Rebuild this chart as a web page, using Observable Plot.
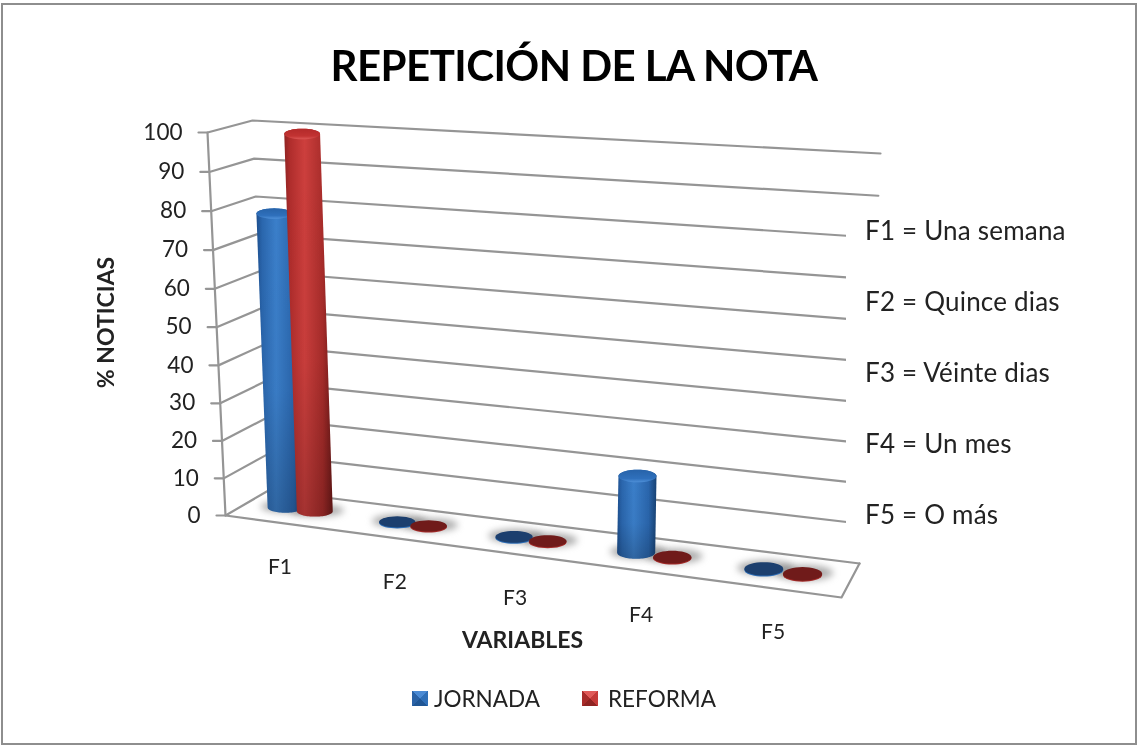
<!DOCTYPE html>
<html lang="es">
<head>
<meta charset="utf-8">
<script src="https://cdn.jsdelivr.net/npm/d3@7"></script>
<script src="https://cdn.jsdelivr.net/npm/@observablehq/plot@0.6"></script>
<style>
  html, body { margin: 0; padding: 0; background: #fff; }
  #wrap { position: relative; width: 1137px; height: 745px; overflow: hidden; font-family: Lato, "Open Sans", sans-serif; color: #1a1a1a; filter: blur(0.45px); }
  #frame { position: absolute; left: 1px; top: 3px; width: 1132px; height: 738px; border: 2.5px solid #8e8e8e; pointer-events: none; }
  #title { position: absolute; left: 274px; top: 35px; width: 600px; text-align: center; font-size: 42px; letter-spacing: -0.55px; font-weight: 700; color: #000; white-space: nowrap; line-height: 60px; }
  #notes { position: absolute; left: 846px; top: 206px; width: 270px; height: 328px; background: #fff; }
  #notes div { position: absolute; left: 19px; font-size: 26px; letter-spacing: 0.2px; line-height: 30px; white-space: nowrap; color: #222; }
  #legend div.t { position: absolute; top: 684px; font-size: 22.5px; line-height: 30px; color: #222; }
  #legend div.s { position: absolute; top: 691px; width: 16px; height: 15px; }
</style>
</head>
<body>
<div id="wrap"></div>
<script>
// ---- data ----
const categories = ["F1", "F2", "F3", "F4", "F5"];
const jornada = [78, 0, 0, 20, 0];
const reforma = [100, 0, 0, 0, 0];
const yTicks = [0, 10, 20, 30, 40, 50, 60, 70, 80, 90, 100];
const notes = ["F1 = Una semana", "F2 = Quince dias", "F3 = Véinte dias", "F4 = Un mes", "F5 = O más"];
const seriesNames = ["JORNADA", "REFORMA"];

// ---- 3D box geometry: floor quad and wall tops ----
const floorFL = [225, 515], floorFR = [841, 597], floorBR = [859, 563], floorBL = [268, 490];
const topFL = [207, 132], topBL = [252, 120], topBR = [880, 153];

function homography([x0, y0], [x1, y1], [x2, y2], [x3, y3]) {
  const dx1 = x1 - x2, dy1 = y1 - y2, dx2 = x3 - x2, dy2 = y3 - y2;
  const sx = x0 - x1 + x2 - x3, sy = y0 - y1 + y2 - y3;
  const den = dx1 * dy2 - dx2 * dy1;
  const g = (sx * dy2 - dx2 * sy) / den, h = (dx1 * sy - sx * dy1) / den;
  const a = x1 - x0 + g * x1, b = x3 - x0 + h * x3, d = y1 - y0 + g * y1, e = y3 - y0 + h * y3;
  return (u, w) => {
    const q = g * u + h * w + 1;
    return [(a * u + b * w + x0) / q, (d * u + e * w + y0) / q];
  };
}
const floor = homography(floorFL, floorFR, floorBR, floorBL);
const persp = 0.033;
const level = v => { const t = v / 100; return t * (1 - persp) / (1 - persp * t); };
const onEdge = (b, t, v) => { const f = level(v); return [b[0] + (t[0] - b[0]) * f, b[1] + (t[1] - b[1]) * f]; };

const depth = 0.5, seriesOffset = 0.028;
const catU = i => 0.102 + 0.2105 * i - 0.0025 * i * i;
function barBase(i, s) { return floor(catU(i) + (s === 0 ? -1 : 1) * seriesOffset, depth); }
function barTop([x, y], v) {
  const t = (x - floorFL[0]) / (floorBR[0] - floorFL[0]);
  return [x + (-18 + 38 * t) * v / 100, y - (376 + 10 * t) * v / 100];
}
const radii = x => {
  const t = (x - floorFL[0]) / (floorBR[0] - floorFL[0]);
  return [17.6 + 2.2 * t, 5 + 2 * t];
};
const arc = ([cx, cy], [rx, ry], a0, a1) =>
  d3.range(0, 37).map(k => {
    const a = a0 + (a1 - a0) * k / 36;
    return {x: cx + rx * Math.cos(a), y: cy + ry * Math.sin(a)};
  });
const ring = (c, r) => arc(c, r, 0, 2 * Math.PI);
const poly = (pts, opts) => Plot.line(pts, {x: "x", y: "y", stroke: "none", ...opts});
const seg = (...pts) => pts.map(([x, y]) => ({x, y}));

// ---- wall & floor lines ----
const gridColor = "#959595";
const lineOpts = {x: "x", y: "y", stroke: gridColor, strokeWidth: 2.2};
const marks = [];
for (const v of yTicks) {
  const a = onEdge(floorFL, topFL, v), b = onEdge(floorBL, topBL, v), c = onEdge(floorBR, topBR, v);
  marks.push(Plot.line(seg([a[0] - 9, a[1]], a, b, c), lineOpts));
}
marks.push(Plot.line(seg(floorFL, topFL), lineOpts));
marks.push(Plot.line(seg(floorFL, floorFR, floorBR), lineOpts));

// ---- cylinders ----
const fills = [
  {body: "url(#bodyB)", cap: "url(#capB)", flat: "#1c3f6e", rim: "#2f6fb8"},
  {body: "url(#bodyR)", cap: "url(#capR)", flat: "#701b1a", rim: "#a52b29"}
];
const valuesBySeries = [jornada, reforma];
categories.forEach((_, i) => {
  [0, 1].forEach(s => {
    const b = barBase(i, s);
    marks.push(poly(ring([b[0] + 2, b[1] - 1], (([rx, ry]) => [rx + 9, ry + 1])(radii(b[0]))),
      {fill: "#777", fillOpacity: 0.6, imageFilter: "blur(3.5px)"}));
  });
});
categories.forEach((_, i) => {
  [0, 1].forEach(s => {
    const v = valuesBySeries[s][i], b = barBase(i, s), r = radii(b[0]), f = fills[s];
    if (v === 0) {
      marks.push(poly(ring([b[0], b[1] + 1], r), {fill: f.rim}));
      marks.push(poly(ring(b, r), {fill: f.flat}));
      return;
    }
    const t = barTop(b, v);
    const outline = [...arc(b, r, 0, Math.PI), ...arc(t, r, Math.PI, 2 * Math.PI)];
    marks.push(poly(outline, {fill: f.body}));
    marks.push(poly(outline, {fill: "url(#shade)"}));
    marks.push(poly(ring(t, r), {fill: f.cap}));
  });
});

// ---- text ----
const labelFont = {fontFamily: "Lato, 'Open Sans', sans-serif", fill: "#222"};
marks.push(Plot.text(yTicks, {
  x: v => onEdge(floorFL, topFL, v)[0] - 25,
  y: v => onEdge(floorFL, topFL, v)[1],
  text: d => String(d), textAnchor: "end", fontSize: 22.5, ...labelFont
}));
marks.push(Plot.text(categories, {
  x: (d, i) => floor(catU(i), 0)[0] + 1,
  y: (d, i) => floor(catU(i), 0)[1] + 44.5,
  text: d => d, fontSize: 21, ...labelFont
}));
marks.push(Plot.text(["VARIABLES"], {x: () => 522, y: () => 640, text: d => d, fontSize: 23, fontWeight: 700, ...labelFont}));
marks.push(Plot.text(["% NOTICIAS"], {x: () => 106, y: () => 322, text: d => d, rotate: -90, fontSize: 23, fontWeight: 700, ...labelFont}));

const chart = Plot.plot({
  width: 1137, height: 745, margin: 0,
  x: {domain: [0, 1137], range: [0, 1137], axis: null},
  y: {domain: [0, 745], range: [0, 745], axis: null},
  marks
});
chart.style.position = "absolute";
chart.style.left = "0";
chart.style.top = "0";
chart.style.background = "transparent";
chart.style.maxWidth = "none";

// gradients
const defs = d3.select(chart).insert("defs", ":first-child");
function grad(id, stops, vertical) {
  const g = defs.append("linearGradient").attr("id", id)
    .attr("x1", 0).attr("y1", 0).attr("x2", vertical ? 0 : 1).attr("y2", vertical ? 1 : 0);
  stops.forEach(([o, c, a]) => g.append("stop").attr("offset", o).attr("stop-color", c).attr("stop-opacity", a ?? 1));
}
grad("bodyB", [[0, "#1d4f8e"], [0.12, "#2a66ad"], [0.42, "#3b7fca"], [0.8, "#2a66ad"], [1, "#184274"]]);
grad("bodyR", [[0, "#8f2322"], [0.12, "#b02d2c"], [0.42, "#cd3f3d"], [0.8, "#a82c2a"], [1, "#701a19"]]);
grad("capB", [[0, "#2763a9"], [0.7, "#2f70bc"], [1, "#4f90d8"]], true);
grad("capR", [[0, "#b32a2a"], [0.7, "#c23332"], [1, "#dc5654"]], true);
grad("shade", [[0, "#000", 0], [0.6, "#000", 0.03], [1, "#000", 0.2]], true);

// ---- page furniture ----
const wrap = document.getElementById("wrap");
wrap.appendChild(chart);
const notesEl = document.createElement("div");
notesEl.id = "notes";
const noteY = [9, 80, 151, 222, 293];
notes.forEach((n, i) => {
  const d = document.createElement("div");
  d.textContent = n;
  d.style.top = noteY[i] + "px";
  notesEl.appendChild(d);
});
wrap.appendChild(notesEl);
const title = document.createElement("div");
title.id = "title";
title.textContent = "REPETICIÓN DE LA NOTA";
wrap.appendChild(title);
const legend = document.createElement("div");
legend.id = "legend";
const swatchCss = [
  "conic-gradient(from -45deg, #4a8ad4 0 25%, #2f6fb8 0 50%, #1f5695 0 75%, #2a62a6 0)",
  "conic-gradient(from -45deg, #e05a58 0 25%, #c53a38 0 50%, #8f2422 0 75%, #a82c2a 0)"
];
[[412, 434], [582, 608]].forEach(([sx, tx], i) => {
  const s = document.createElement("div");
  s.className = "s"; s.style.left = sx + "px"; s.style.background = swatchCss[i];
  const t = document.createElement("div");
  t.className = "t"; t.style.left = tx + "px"; t.textContent = seriesNames[i];
  legend.append(s, t);
});
wrap.appendChild(legend);
const frame = document.createElement("div");
frame.id = "frame";
wrap.appendChild(frame);
</script>
</body>
</html>
